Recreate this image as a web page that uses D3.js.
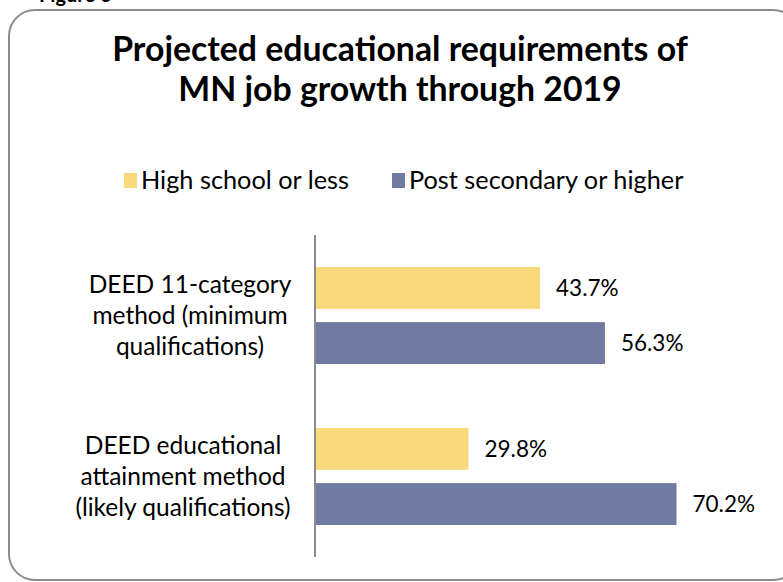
<!DOCTYPE html>
<html lang="en">
  <head>
    <meta charset="utf-8">
    <title>Projected educational requirements of MN job growth</title>
    <script src="https://cdn.jsdelivr.net/npm/d3@7"></script>
    <style>
      body { margin: 0; background: #fff; }
      svg text { font-family: Lato, "Open Sans", sans-serif; fill: #000; }
    </style>
  </head>
  <body>
    <svg></svg>
    <script>
    // data
    var categories = [
      ["DEED 11-category", "method (minimum", "qualifications)"],
      ["DEED educational", "attainment method", "(likely qualifications)"]
    ];
    var seriesNames = ["High school or less", "Post secondary or higher"];
    var highSchool = [43.7, 29.8];
    var postSecondary = [56.3, 70.2];
    var colors = ["#fad97c", "#717ba1"];

    var width = 783, height = 582;
    var svg = d3.select("svg").attr("width", width).attr("height", height);

    // frame
    svg.append("rect")
      .attr("x", 9).attr("y", 10)
      .attr("width", 790).attr("height", 570)
      .attr("rx", 26).attr("ry", 26)
      .attr("fill", "#fff")
      .attr("stroke", "#8c8c8c")
      .attr("stroke-width", 2);

    svg.append("text")
      .attr("x", 39).attr("y", 2)
      .style("font-weight", "bold")
      .style("font-size", "20px")
      .text("Figure 6");

    // title
    var title = svg.append("text")
      .attr("text-anchor", "middle")
      .style("font-weight", "bold")
      .style("font-size", "33.8px");
    title.append("tspan").attr("x", 400).attr("y", 61).text("Projected educational requirements of");
    title.append("tspan").attr("x", 400).attr("y", 101).text("MN job growth through 2019");

    // legend
    var legendX = [124, 392];
    var legend = svg.selectAll(".legend")
      .data(seriesNames)
      .enter().append("g")
      .attr("class", "legend")
      .attr("transform", function(d, i) { return "translate(" + legendX[i] + ",173)"; });
    legend.append("rect")
      .attr("width", 13).attr("height", 15)
      .attr("fill", function(d, i) { return colors[i]; });
    legend.append("text")
      .attr("x", 17).attr("y", 16)
      .style("font-size", "25.3px")
      .text(function(d) { return d; });

    // scales
    var x = d3.scaleLinear().domain([0, 80]).range([315, 727]);
    var y0 = d3.scaleBand().domain(d3.range(categories.length)).range([235, 557]);
    var y1 = d3.scaleBand().domain(d3.range(seriesNames.length)).range([32, 129]).paddingInner(0.24);

    var rows = [];
    categories.forEach(function(c, i) {
      rows.push({ cat: i, s: 0, v: highSchool[i] });
      rows.push({ cat: i, s: 1, v: postSecondary[i] });
    });

    svg.selectAll(".bar")
      .data(rows)
      .enter().append("rect")
      .attr("class", "bar")
      .attr("x", x(0))
      .attr("y", function(d) { return y0(d.cat) + y1(d.s); })
      .attr("width", function(d) { return x(d.v) - x(0); })
      .attr("height", y1.bandwidth())
      .attr("fill", function(d) { return colors[d.s]; });

    svg.selectAll(".val")
      .data(rows)
      .enter().append("text")
      .attr("class", "val")
      .attr("x", function(d) { return x(d.v) + 16; })
      .attr("y", function(d) { return y0(d.cat) + y1(d.s) + y1.bandwidth() / 2 + 8; })
      .style("font-size", "22.5px")
      .text(function(d) { return d.v.toFixed(1) + "%"; });

    // axis line
    svg.append("line")
      .attr("x1", x(0)).attr("x2", x(0))
      .attr("y1", 235).attr("y2", 557)
      .attr("stroke", "#8c8c8c").attr("stroke-width", 2);

    // category labels
    var catX = [190, 183];
    var catG = svg.selectAll(".cat")
      .data(categories)
      .enter().append("text")
      .attr("class", "cat")
      .attr("text-anchor", "middle")
      .style("font-size", "24.5px");
    catG.selectAll("tspan")
      .data(function(d, i) { return d.map(function(t, j) { return { t: t, j: j, i: i }; }); })
      .enter().append("tspan")
      .attr("x", function(d) { return catX[d.i]; })
      .attr("y", function(d) { return y0(d.i) + y0.bandwidth() / 2 + (d.j - 1) * 31 + 8; })
      .text(function(d) { return d.t; });
    </script>
  </body>
</html>
